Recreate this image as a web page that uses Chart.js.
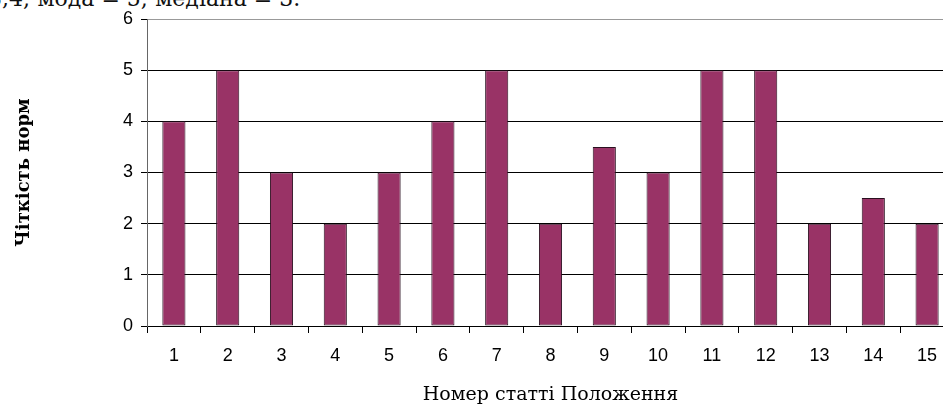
<!DOCTYPE html>
<html>
<head>
<meta charset="utf-8">
<script src="https://cdn.jsdelivr.net/npm/chart.js@4/dist/chart.umd.min.js"></script>
<style>
  body { margin: 0; overflow: hidden; background: #fff; width: 943px; height: 407px; position: relative; }
  #note { position: absolute; left: -12px; top: -14px; font-family: "DejaVu Serif", serif; font-size: 22px; color: #111; white-space: nowrap; }
  #wrap { position: absolute; left: 0; top: 0; width: 960px; height: 407px; }
</style>
</head>
<body>
<div id="note">3,4; мода = 5; медіана = 3.</div>
<div id="wrap"><canvas id="norms-chart"></canvas></div>
<script>
// номери статей і чіткість норм
articles = ['1','2','3','4','5','6','7','8','9','10','11','12','13','14','15']
clarity = [4, 5, 3, 2, 3, 4, 5, 2, 3.5, 3, 5, 5, 2, 2.5, 2]
yTicks = [0, 1, 2, 3, 4, 5, 6]

canvas = document.querySelector('#norms-chart')
const normsChart = new Chart(canvas, {
  type: 'bar',
  data: {
    labels: articles,
    datasets: [{
      data: clarity,
      backgroundColor: '#993366',
      borderColor: '#2a1020',
      borderWidth: 1,
      borderSkipped: false,
      barPercentage: 0.43,
      categoryPercentage: 1
    }]
  },
  options: {
    responsive: true,
    maintainAspectRatio: false,
    animation: false,
    layout: { padding: { top: 19, right: 6, bottom: 0, left: 0 } },
    plugins: { legend: { display: false }, tooltip: { enabled: false } },
    scales: {
      x: {
        afterFit: function (s) { s.height = 81 },
        grid: { drawOnChartArea: false, color: '#000', tickLength: 7, offset: true },
        border: { color: '#000', width: 1 },
        ticks: { color: '#000', padding: 12, font: { family: 'Liberation Sans', size: 18 } },
        title: {
          display: true,
          text: 'Номер статті Положення',
          color: '#000',
          font: { family: 'DejaVu Serif', size: 19 },
          padding: { top: 0, bottom: 1 }
        }
      },
      y: {
        min: 0,
        max: 6,
        afterFit: function (s) { s.width = 147 },
        afterBuildTicks: function (s) { s.ticks = yTicks.map(v => ({ value: v })) },
        grid: {
          color: ctx => ctx.tick && ctx.tick.value === 6 ? '#999' : '#000',
          tickColor: '#000',
          tickLength: 6
        },
        border: { color: '#666', width: 1 },
        ticks: { color: '#000', padding: 8, font: { family: 'Liberation Sans', size: 18 } },
        title: {
          display: true,
          text: 'Чіткість норм',
          color: '#000',
          font: { family: 'DejaVu Serif', size: 18, weight: 'bold' },
          padding: { top: 14, bottom: 0 }
        }
      }
    }
  }
})
</script>
</body>
</html>
